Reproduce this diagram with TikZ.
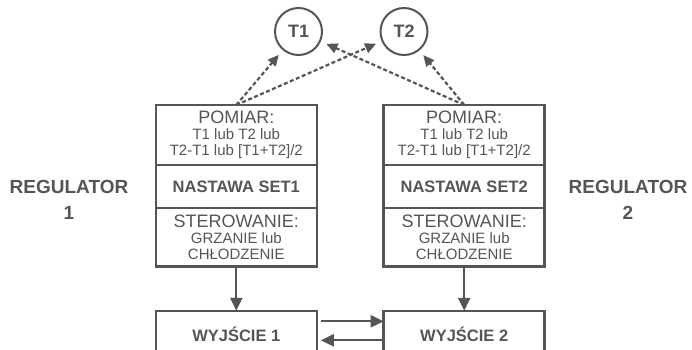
\documentclass[tikz,border=0pt]{standalone}
\usepackage{fontspec}
\setmainfont{Liberation Sans}
\usetikzlibrary{positioning,arrows.meta}
\definecolor{regray}{RGB}{85,85,85}
\begin{document}
\begin{tikzpicture}[x=1pt,y=-1pt,
    part/.style={draw=regray,line width=2.5pt,minimum width=161pt,
      inner sep=0pt,outer sep=0pt,align=center,text=regray,
      font=\fontsize{15}{16}\selectfont},
    boldpart/.style={part,font=\bfseries\fontsize{16.5}{18}\selectfont},
    sensor/.style={circle,draw=regray,line width=2pt,minimum size=47pt,
      inner sep=0pt,outer sep=0pt,text=regray,
      font=\bfseries\fontsize{18}{20}\selectfont},
    reglabel/.style={align=center,text=regray,
      font=\bfseries\fontsize{19}{26}\selectfont},
    link/.style={draw=regray,line width=2.2pt,
      -{Triangle[length=13pt,width=12pt]}},
    probe/.style={draw=regray,line width=2.2pt,dash pattern=on 4pt off 2.5pt,
      -{Triangle[length=11pt,width=10pt]},shorten >=7pt}]
  \useasboundingbox (0,0) rectangle (692,350);
  % czujniki
  \node[sensor] (T1) at (298.5,31.5) {T1};
  \node[sensor] (T2) at (404,31.5) {T2};
  % regulator 1
  \node[part,minimum height=60pt] (pom1) at (236.3,135)
    {{\fontsize{18}{16}\selectfont POMIAR:}\\T1 lub T2 lub\\T2-T1 lub [T1+T2]/2};
  \node[boldpart,minimum height=43pt,below=0pt of pom1] (set1) {NASTAWA SET1};
  \node[part,minimum height=58.7pt,below=0pt of set1] (ster1)
    {{\fontsize{18}{16}\selectfont STEROWANIE:}\\GRZANIE lub\\CHŁODZENIE};
  % regulator 2
  \node[part,minimum height=60pt] (pom2) at (464.2,135)
    {{\fontsize{18}{16}\selectfont POMIAR:}\\T1 lub T2 lub\\T2-T1 lub [T1+T2]/2};
  \node[boldpart,minimum height=43pt,below=0pt of pom2] (set2) {NASTAWA SET2};
  \node[part,minimum height=58.7pt,below=0pt of set2] (ster2)
    {{\fontsize{18}{16}\selectfont STEROWANIE:}\\GRZANIE lub\\CHŁODZENIE};
  % wyjscia
  \node[boldpart,minimum height=47pt] (out1) at (236.3,334.3) {WYJŚCIE 1};
  \node[boldpart,minimum height=47pt] (out2) at (464.2,334.3) {WYJŚCIE 2};
  \node[reglabel] (reg1) at (69,199.5) {REGULATOR\\1};
  \node[reglabel] (reg2) at (628,199.5) {REGULATOR\\2};
  % pomiary
  \draw[probe] (pom1.north) -- (T1);
  \draw[probe] (pom1.north) -- (T2);
  \draw[probe] (pom2.north) -- (T1);
  \draw[probe] (pom2.north) -- (T2);
  % sterowanie
  \draw[link] (ster1) -- (out1);
  \draw[link] (ster2) -- (out2);
  \draw[link,shorten <=4pt]
    ([yshift=13pt]out1.east)
    --
    ([yshift=13pt]out2.west);
  \draw[link,shorten >=4pt]
    ([yshift=-6pt]out2.west)
    --
    ([yshift=-6pt]out1.east);
\end{tikzpicture}
\end{document}
